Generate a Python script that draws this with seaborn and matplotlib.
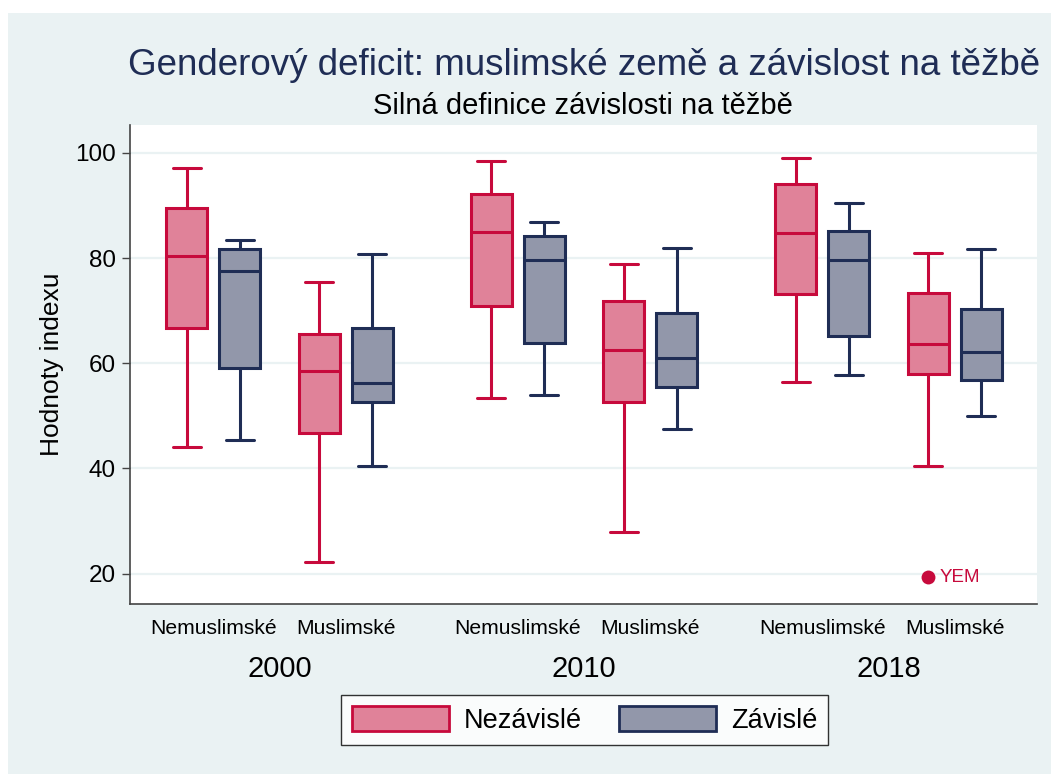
import pandas as pd
import matplotlib.pyplot as plt
import seaborn as sns
from matplotlib.patches import Patch, Rectangle

# Data: five-number summaries per box
# order: 2000 Nem, 2000 Mus, 2010 Nem, 2010 Mus, 2018 Nem, 2018 Mus
years = ["2000", "2000", "2010", "2010", "2018", "2018"]
kinds = ["Nemuslimské", "Muslimské", "Nemuslimské", "Muslimské", "Nemuslimské", "Muslimské"]
deps = ["Nezávislé", "Závislé"]

nez_min = [44.1, 22.1, 53.3, 27.8, 56.4, 40.5]
nez_q1 = [66.6, 46.7, 70.9, 52.6, 73.1, 57.9]
nez_med = [80.4, 58.6, 84.9, 62.5, 84.7, 63.7]
nez_q3 = [89.6, 65.5, 92.1, 71.8, 94.1, 73.3]
nez_max = [97.1, 75.5, 98.5, 78.9, 99.0, 80.9]

zav_min = [45.3, 40.5, 53.9, 47.5, 57.7, 49.9]
zav_q1 = [59.1, 52.7, 63.9, 55.5, 65.1, 56.8]
zav_med = [77.5, 56.2, 79.7, 61.0, 79.7, 62.1]
zav_q3 = [81.8, 66.7, 84.2, 69.5, 85.2, 70.3]
zav_max = [83.5, 80.7, 86.8, 81.9, 90.5, 81.8]

# outlier
out_label = "YEM"
out_value = 19.3
out_slot = 5
out_dep = "Nezávislé"

# layout: slot positions on x (wider gap between years)
slot_pos = [0, 1, 2.3, 3.3, 4.6, 5.6]

BG = "#EAF2F3"
PINK_FILL = "#E08299"
PINK_EDGE = "#C70A3C"
NAVY_FILL = "#9297AA"
NAVY_EDGE = "#1F2D55"

rows = []
for dep, stats in [("Nezávislé", [nez_min, nez_q1, nez_med, nez_q3, nez_max]),
                   ("Závislé", [zav_min, zav_q1, zav_med, zav_q3, zav_max])]:
    for i in range(6):
        for s in stats:
            rows.append({"pos": slot_pos[i], "year": years[i], "kind": kinds[i],
                         "dep": dep, "value": s[i]})
df = pd.DataFrame(rows)

sns.set_style("white")
plt.rcParams["font.family"] = ["Liberation Sans", "DejaVu Sans"]
plt.rcParams["text.color"] = "black"
plt.rcParams["axes.labelcolor"] = "black"
plt.rcParams["ytick.labelcolor"] = "black"
plt.rcParams["xtick.labelcolor"] = "black"

fig = plt.figure(figsize=(10.51, 7.74), dpi=100)
fig.patches.append(Rectangle((8 / 1051, 0), 1, (774 - 13) / 774, transform=fig.transFigure,
                             facecolor=BG, edgecolor="none", zorder=-10))

W, H = 1051, 774
ax = fig.add_axes([130 / W, 1 - 604 / H, (1036.7 - 130) / W, (604 - 125) / H])
ax.set_facecolor("white")

palette = {"Nezávislé": PINK_FILL, "Závislé": NAVY_FILL}
edges = {"Nezávislé": PINK_EDGE, "Závislé": NAVY_EDGE}
for dep in deps:
    sns.boxplot(data=df[df["dep"] == dep], x="pos", y="value", hue="dep", hue_order=deps,
                palette=palette, linecolor=edges[dep], saturation=1, native_scale=True,
                dodge=True, width=0.8, gap=0.225, whis=(0, 100), linewidth=2.2,
                fliersize=0, legend=False, ax=ax)

# widen whisker caps a little (Stata style)
for ln in ax.lines:
    xd, yd = ln.get_xdata(), ln.get_ydata()
    if len(xd) == 2 and yd[0] == yd[1] and 0 < abs(xd[1] - xd[0]) < 0.25:
        c = (xd[0] + xd[1]) / 2
        ln.set_xdata([c - 0.105, c + 0.105])

# outlier point
odf = pd.DataFrame({"pos": [slot_pos[out_slot]], "value": [out_value], "dep": [out_dep]})
n_before = len(ax.collections)
sns.stripplot(data=odf, x="pos", y="value", hue="dep", hue_order=deps, dodge=True,
              jitter=False, native_scale=True, palette={d: edges[d] for d in deps},
              size=10, legend=False, ax=ax)
pts = [c.get_offsets() for c in ax.collections[n_before:] if len(c.get_offsets())]
px, py = pts[0][0]
ax.annotate(out_label, (px, py), xytext=(8, 0), textcoords="offset points",
            color=PINK_EDGE, fontsize=13.5, va="center", ha="left")

ax.set_xlim(-0.63, 6.22)
ax.set_ylim(14.2, 105.3)
ax.set_yticks([20, 40, 60, 80, 100])
ax.yaxis.grid(True, color=BG, linewidth=1.6)
ax.set_axisbelow(True)
ax.tick_params(axis="y", labelsize=17.5, length=6, width=1, color="#444444", pad=4, left=True)
ax.set_xticks(slot_pos, kinds)
ax.tick_params(axis="x", labelsize=15.2, length=0, pad=11)
ax.set_xlabel("")
ax.set_ylabel("Hodnoty indexu", fontsize=19, labelpad=8)
for side in ["top", "right"]:
    ax.spines[side].set_visible(False)
for side in ["left", "bottom"]:
    ax.spines[side].set_color("#444444")
    ax.spines[side].set_linewidth(1.2)

for k in range(3):
    xc = (slot_pos[2 * k] + slot_pos[2 * k + 1]) / 2
    ax.text(xc, -0.135, years[2 * k], transform=ax.get_xaxis_transform(),
            ha="center", va="center", fontsize=21)

fig.text(128 / W, 1 - 75 / H, "Genderový deficit: muslimské země a závislost na těžbě",
         fontsize=26.5, color=NAVY_EDGE, ha="left", va="baseline")
fig.text(583 / W, 1 - 114 / H, "Silná definice závislosti na těžbě",
         fontsize=21, color="black", ha="center", va="baseline")

handles = [Patch(facecolor=palette[d], edgecolor=edges[d], linewidth=2) for d in deps]
leg = fig.legend(handles, deps, loc="center", bbox_to_anchor=(584.5 / W, 1 - 720 / H),
                 ncol=2, fontsize=19.5, frameon=True, fancybox=False, edgecolor="black",
                 handlelength=3.6, handleheight=1.0, handletextpad=0.55,
                 columnspacing=1.35, borderpad=0.4)
leg.get_frame().set_linewidth(1.0)

fig.savefig("out.png", dpi=100)
